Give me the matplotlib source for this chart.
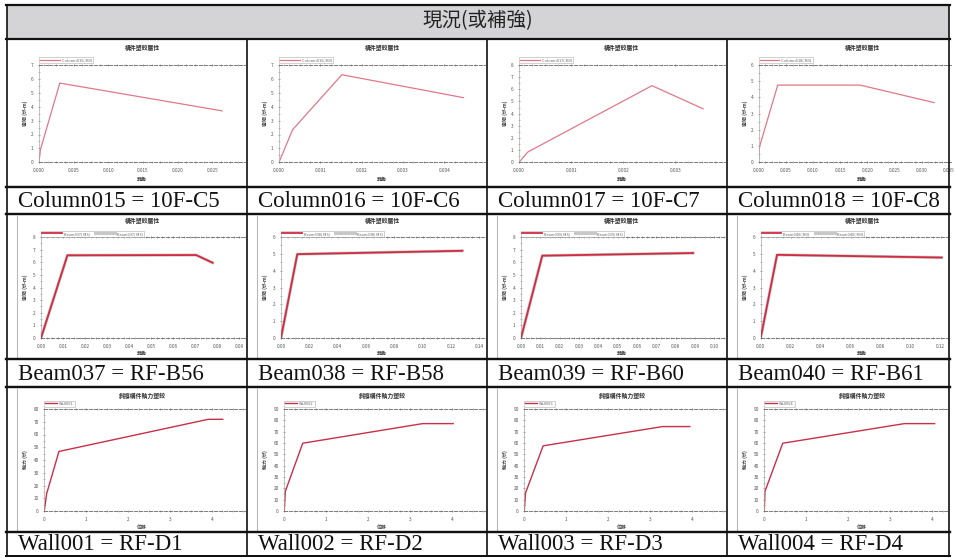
import matplotlib
matplotlib.use("Agg")
import matplotlib.pyplot as plt
from matplotlib.lines import Line2D
from matplotlib.patches import Rectangle
from matplotlib.ticker import FormatStrFormatter, AutoMinorLocator

plt.rcParams['font.family'] = ['Noto Sans CJK TC', 'DejaVu Sans']

# ---------------- data ----------------
header_text = "現況(或補強)"
captions = ["Column015 = 10F-C5", "Column016 = 10F-C6", "Column017 = 10F-C7", "Column018 = 10F-C8",
            "Beam037 = RF-B56", "Beam038 = RF-B58", "Beam039 = RF-B60", "Beam040 = RF-B61",
            "Wall001 = RF-D1", "Wall002 = RF-D2", "Wall003 = RF-D3", "Wall004 = RF-D4"]
legend_labels = ["Column015( M3)", "Column016( M3)", "Column017( M3)", "Column018( M3)",
                 "Beam037( M3)", "Beam038( M3)", "Beam039( M3)", "Beam040( M3)",
                 "Wall001", "Wall002", "Wall003", "Wall004"]

col015_x = [0, 0.0002, 0.0030, 0.0264]
col015_y = [0, 0.9, 5.7, 3.7]
col016_x = [0, 0.00033, 0.00152, 0.00446]
col016_y = [0, 2.35, 6.3, 4.65]
col017_x = [0, 0.00017, 0.00255, 0.00353]
col017_y = [0, 0.85, 6.3, 4.4]
col018_x = [0, 0.0001, 0.0035, 0.0187, 0.0323]
col018_y = [0, 0.9, 4.76, 4.76, 3.68]

beam037_x = [0, 0.012, 0.0705, 0.078]
beam037_y = [0, 6.55, 6.57, 5.96]
beam038_x = [0, 0.0115, 0.128]
beam038_y = [0, 4.98, 5.18]
beam039_x = [0, 0.011, 0.089]
beam039_y = [0, 6.52, 6.73]
beam040_x = [0, 0.0109, 0.1207]
beam040_y = [0, 4.94, 4.78]

wall001_x = [0, 0.056, 0.35, 3.91, 4.26]
wall001_y = [0, 13.6, 46.7, 71.9, 71.9]
wall002_x = [0, 0.024, 0.44, 3.30, 4.03]
wall002_y = [0, 17.3, 59.8, 77.1, 77.1]
wall003_x = [0, 0.03, 0.45, 3.30, 3.95]
wall003_y = [0, 16.0, 57.5, 74.5, 74.5]
wall004_x = [0, 0.016, 0.44, 3.34, 4.06]
wall004_y = [0, 17.3, 59.8, 77.1, 77.1]

series_x = [col015_x, col016_x, col017_x, col018_x, beam037_x, beam038_x, beam039_x, beam040_x,
            wall001_x, wall002_x, wall003_x, wall004_x]
series_y = [col015_y, col016_y, col017_y, col018_y, beam037_y, beam038_y, beam039_y, beam040_y,
            wall001_y, wall002_y, wall003_y, wall004_y]

row_titles = ["構件塑鉸屬性", "構件塑鉸屬性", "斜撐構件軸力塑鉸"]
row_ylabels = ["彎矩 (tf-m)", "彎矩 (tf-m)", "軸力 (tf)"]
row_xlabels = ["轉角", "轉角", "位移"]

# ---------------- layout (pixels) ----------------
W, H = 955, 558
fig = plt.figure(figsize=(W / 100, H / 100), dpi=100)


def fx(x):
    return x / W


def fy(y):
    return 1 - y / H


col_edges = [7, 247, 487, 727, 949]
plot_rows = [(39, 187), (214, 359), (387, 532)]
cap_rows = [(187, 214), (359, 387), (532, 556)]

# axes boxes: left, top, right, bottom
boxes = [
    (39, 65, 245, 162.3), (279, 65, 485, 162.3), (519, 65, 725, 162.3), (758.7, 65, 951, 162.3),
    (41, 237, 245, 338), (281, 237, 485, 338), (521, 237, 725, 338), (760.7, 237, 948, 338),
    (44.3, 409, 245, 511), (284.3, 409, 485, 511), (524.3, 409, 725, 511), (764.3, 409, 948, 511),
]
xlims = [0.0297, 0.00498, 0.00395, 0.0354,
         0.0927, 0.144, 0.1055, 0.1249,
         4.79, 4.79, 4.79, 4.38]
xsteps = [0.005, 0.001, 0.001, 0.005,
          0.01, 0.02, 0.01, 0.02,
          1, 1, 1, 1]
xfmts = ["%.3f"] * 4 + ["%.2f"] * 4 + ["%d"] * 4
ylims = [7, 7, 8, 6, 8, 6, 8, 6, 80, 90, 90, 90]
ysteps = [1] * 8 + [10] * 4

# header
fig.add_artist(Rectangle((fx(7), fy(39)), fx(942), 34 / H, transform=fig.transFigure,
                         facecolor="#d4d4d6", edgecolor="none", zorder=1))
fig.text(fx(478), fy(21), header_text, fontsize=14, ha="center", va="center",
         family=['Noto Sans CJK TC', 'DejaVu Sans'], color="#222", zorder=5)

# image frames for beam / wall rows
for r in (1, 2):
    for c in range(4):
        x0 = col_edges[c] + 10
        fig.add_artist(Line2D([fx(x0), fx(x0)], [fy(plot_rows[r][0] + 2), fy(plot_rows[r][1] - 1)],
                              transform=fig.transFigure, color="#b8b8b8", lw=0.8, zorder=1))

for i in range(12):
    r, c = divmod(i, 4)
    l, t, rr, b = boxes[i]
    ax = fig.add_axes([fx(l), fy(b), (rr - l) / W, (b - t) / H])
    ax.set_xlim(0, xlims[i])
    ax.set_ylim(0, ylims[i])
    xt = []
    v = 0.0
    while v <= xlims[i] + 1e-12:
        xt.append(v)
        v += xsteps[i]
    ax.set_xticks(xt)
    yt = []
    v = 0
    while v <= ylims[i] + 1e-9:
        yt.append(v)
        v += ysteps[i]
    ax.set_yticks(yt)
    ax.xaxis.set_major_formatter(FormatStrFormatter(xfmts[i]))
    ax.xaxis.set_minor_locator(AutoMinorLocator(4))
    ax.yaxis.set_minor_locator(AutoMinorLocator(2))
    ax.tick_params(axis="both", which="major", labelsize=3.4, colors="#777", labelcolor="#555",
                   length=2, width=0.5, pad=3, direction="inout", top=True)
    ax.tick_params(axis="both", which="minor", length=1.2, width=0.4, colors="#888",
                   direction="inout", top=True)
    for s in ("right",):
        ax.spines[s].set_visible(False)
    ax.spines["left"].set_color("#aaa")
    ax.spines["left"].set_linewidth(0.5)
    for s in ("top", "bottom"):
        ax.spines[s].set_color("#666")
        ax.spines[s].set_linewidth(0.6)
        ax.spines[s].set_linestyle((0, (4, 2)))
    ax.set_facecolor("white")
    ax.patch.set_alpha(0)

    if r == 0:
        ax.plot(series_x[i], series_y[i], color="#e07888", lw=0.9, label=legend_labels[i])
        leg = ax.legend(loc="lower left", bbox_to_anchor=(0.0, 1.02), fontsize=2.8, frameon=True,
                        handlelength=5, borderpad=0.3, handletextpad=0.5, borderaxespad=0)
    elif r == 1:
        ax.plot(series_x[i], series_y[i], color="#c8c8c8", lw=2.2, label=legend_labels[i], zorder=2)
        ax.plot(series_x[i], series_y[i], color="#d42a40", lw=1.3, label=legend_labels[i], zorder=3)
        h, lab = ax.get_legend_handles_labels()
        leg = ax.legend([h[1], h[0]], [lab[1], lab[0]], loc="lower left", bbox_to_anchor=(0.0, 1.0),
                        fontsize=2.8, frameon=True, ncol=2, handlelength=5, borderpad=0.3,
                        handletextpad=0.5, columnspacing=1.5, borderaxespad=0)
    else:
        ax.plot(series_x[i], series_y[i], color="#c8304a", lw=1.0, label=legend_labels[i])
        leg = ax.legend(loc="lower left", bbox_to_anchor=(0.0, 1.02), fontsize=2.8, frameon=True,
                        handlelength=3, borderpad=0.3, handletextpad=0.5, borderaxespad=0)
    leg.get_frame().set_edgecolor("#999")
    leg.get_frame().set_linewidth(0.4)
    leg.get_frame().set_boxstyle("square", pad=0)
    for txt in leg.get_texts():
        txt.set_color("#666")

    cl = col_edges[c]
    pt, pb = plot_rows[r]
    title_y = [47.5, 221, 395.7][r]
    fig.text(fx(cl + 135), fy(title_y), row_titles[r], fontsize=4.2, ha="center", va="center",
             fontweight="bold", color="#333")
    fig.text(fx(cl + 18), fy((t + b) / 2), row_ylabels[r], fontsize=3.6, ha="center", va="center",
             rotation=90, fontweight="bold", color="#444")
    xl_y = [179, 353, 527][r]
    fig.text(fx(cl + 135), fy(xl_y), row_xlabels[r], fontsize=3.6, ha="center", va="center",
             fontweight="bold", color="#444")

    cy = (cap_rows[r][0] + cap_rows[r][1]) / 2
    fig.text(fx(cl + 11), fy(cy + 1), captions[i], fontsize=16.5, ha="left", va="center",
             family=["Liberation Serif", "DejaVu Serif"], color="#111")

# table lines
hlines = [(5, 2.2), (39, 2.2), (187, 2.4), (214, 2.4), (359, 2.4), (387, 2.4), (532, 2.4), (556, 2.0)]
for y, lw in hlines:
    fig.add_artist(Line2D([fx(6), fx(950)], [fy(y), fy(y)], transform=fig.transFigure,
                          color="#111", lw=lw * 0.72, zorder=10))
for x in col_edges:
    if x in (7, 949):
        fig.add_artist(Line2D([fx(x), fx(x)], [fy(5), fy(556)], transform=fig.transFigure,
                              color="#111", lw=1.2, zorder=10))
    else:
        fig.add_artist(Line2D([fx(x), fx(x)], [fy(39), fy(556)], transform=fig.transFigure,
                              color="#111", lw=1.2, zorder=10))

fig.savefig("out.png", dpi=100, facecolor="white")
